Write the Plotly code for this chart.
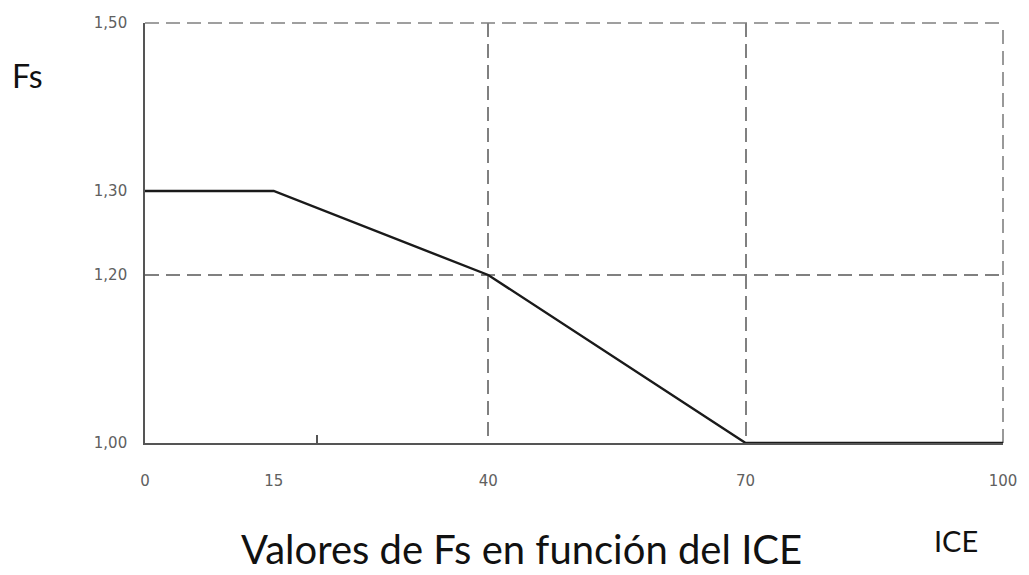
import plotly.graph_objects as go

# Data
ice = [0, 15, 40, 70, 100]
fs = [1.30, 1.30, 1.20, 1.00, 1.00]
x_ticks = [0, 15, 40, 70, 100]
x_ticktext = ["0", "15", "40", "70", "100"]
y_ticks = [1.00, 1.20, 1.30, 1.50]
y_ticktext = ["1,00", "1,20", "1,30", "1,50"]
x_grid = [40, 70, 100]
y_grid = [1.20, 1.50]
x_minor_tick = [20]

title_text = "Valores de Fs en función del ICE"
x_label = "ICE"
y_label = "Fs"

GRID = "#808080"
AXIS = "#555555"
DASH = "14px,7px"
TICKFONT = dict(family="DejaVu Sans", size=15, color="#606060")
TEXTFONT = "Lato"

fig = go.Figure()

fig.add_trace(go.Scatter(x=ice, y=fs, mode="lines",
                         line=dict(color="#1a1a1a", width=2.4),
                         xaxis="x", yaxis="y", hoverinfo="skip", showlegend=False))
# invisible helpers so overlay axes render
fig.add_trace(go.Scatter(x=[ice[0], ice[-1]], y=[min(fs), max(y_ticks)], mode="markers",
                         marker=dict(opacity=0), xaxis="x2", yaxis="y2",
                         hoverinfo="skip", showlegend=False))
fig.add_trace(go.Scatter(x=[ice[0], ice[-1]], y=[min(fs), max(y_ticks)], mode="markers",
                         marker=dict(opacity=0), xaxis="x3", yaxis="y",
                         hoverinfo="skip", showlegend=False))

xr = [x_ticks[0], x_ticks[-1]]
yr = [y_ticks[0], y_ticks[-1]]

fig.update_layout(
    width=1029, height=575,
    margin=dict(l=137, r=34, t=15, b=140, autoexpand=False),
    paper_bgcolor="white", plot_bgcolor="white",
    xaxis=dict(range=xr, tickmode="array", tickvals=x_ticks, ticktext=x_ticktext,
               showgrid=False, zeroline=False, showline=True, linecolor=AXIS, linewidth=1.6,
               ticks="", ticklabelstandoff=23, tickfont=TICKFONT, fixedrange=True,
               automargin=False),
    xaxis2=dict(range=xr, overlaying="x", tickmode="array", tickvals=x_grid,
                showgrid=True, gridcolor=GRID, gridwidth=1.6, griddash=DASH,
                showticklabels=False, ticks="", zeroline=False, showline=False,
                automargin=False),
    xaxis3=dict(range=xr, overlaying="x", tickmode="array", tickvals=x_minor_tick,
                showgrid=False, showticklabels=False, ticks="inside", ticklen=8,
                tickcolor=AXIS, tickwidth=1.6, zeroline=False, showline=False,
                automargin=False),
    yaxis=dict(range=yr, tickmode="array", tickvals=y_ticks, ticktext=y_ticktext,
               showgrid=False, zeroline=False, showline=True, linecolor=AXIS, linewidth=1.6,
               ticks="", ticklabelstandoff=13, tickfont=TICKFONT, fixedrange=True,
               automargin=False),
    yaxis2=dict(range=yr, overlaying="y", tickmode="array", tickvals=y_grid,
                showgrid=True, gridcolor=GRID, gridwidth=1.6, griddash=DASH,
                showticklabels=False, ticks="", zeroline=False, showline=False,
                automargin=False),
    showlegend=False,
)

# dashed frame on the top and right edges (grid lines at range limits)
fig.add_shape(type="line", xref="x domain", yref="y domain", x0=0, x1=1, y0=1, y1=1,
              line=dict(color=GRID, width=1.6, dash=DASH), layer="below")
fig.add_shape(type="line", xref="x domain", yref="y domain", x0=1, x1=1, y0=0, y1=1,
              line=dict(color=GRID, width=1.6, dash=DASH), layer="below")

fig.add_annotation(text=y_label, xref="paper", yref="paper", x=-0.1375, y=0.876,
                   xanchor="center", yanchor="middle", showarrow=False,
                   font=dict(family=TEXTFONT, size=32, color="#111111"))
fig.add_annotation(text=x_label, xref="paper", yref="paper", x=0.945, y=-0.233,
                   xanchor="center", yanchor="middle", showarrow=False,
                   font=dict(family=TEXTFONT, size=29, color="#111111"))
fig.add_annotation(text=title_text, xref="paper", yref="paper", x=0.439, y=-0.2524,
                   xanchor="center", yanchor="middle", showarrow=False,
                   font=dict(family=TEXTFONT, size=40, color="#111111"))

fig.write_html("out.html")
